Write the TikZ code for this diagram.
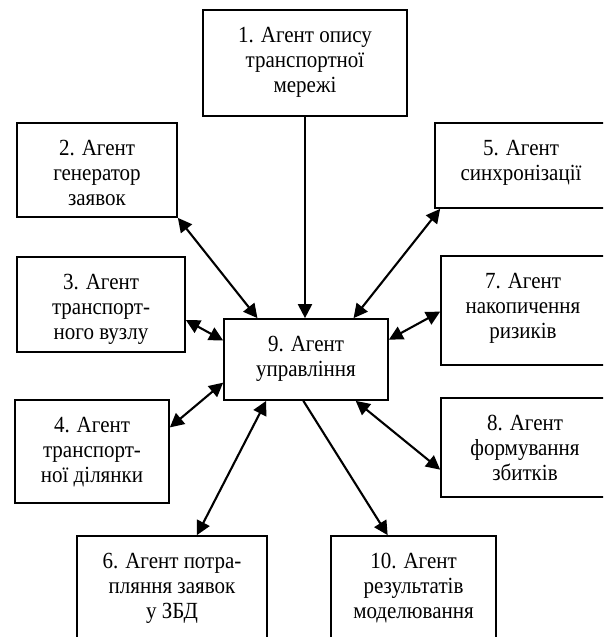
\documentclass[tikz,border=0pt]{standalone}
\usepackage{fontspec}
\usepackage{graphicx}
\setmainfont{Liberation Serif}
\usetikzlibrary{arrows.meta,calc}
\newcommand{\agtxt}[1]{\scalebox{1}[1.1]{\fontsize{21}{22.7}\selectfont\begin{tabular}{@{}c@{}}#1\end{tabular}}}
\tikzset{
  agentbox/.style={draw, line width=1.7pt, inner sep=0pt, rectangle},
  lbl/.style={inner sep=0pt, anchor=north},
  onearr/.style={line width=2.1pt, -{Triangle[length=14pt,width=14pt]}},
  twoarr/.style={line width=2.1pt, {Triangle[length=14pt,width=14pt]}-{Triangle[length=14pt,width=14pt]}}
}
\begin{document}
\begin{tikzpicture}[x=1pt,y=-1pt]
\useasboundingbox (0,0) rectangle (603,637);
\clip (0,0) rectangle (603,637);
% boxes
\node[agentbox, minimum width=204pt, minimum height=106pt] (n1) at (305,63) {};
\node[agentbox, minimum width=160pt, minimum height=94pt] (n2) at (97,170) {};
\node[agentbox, minimum width=168pt, minimum height=95pt] (n3) at (101,304.5) {};
\node[agentbox, minimum width=154pt, minimum height=103pt] (n4) at (92,451.5) {};
\node[agentbox, minimum width=172pt, minimum height=85pt] (n5) at (521,165.5) {};
\node[agentbox, minimum width=164pt, minimum height=109pt] (n7) at (523,310.5) {};
\node[agentbox, minimum width=168pt, minimum height=99pt] (n8) at (525,447.5) {};
\node[agentbox, minimum width=164pt, minimum height=81pt] (n9) at (306,359.5) {};
\node[agentbox, minimum width=190pt, minimum height=114pt] (n6) at (172,593) {};
\node[agentbox, minimum width=165pt, minimum height=114pt] (n10) at (413.5,593) {};
% labels
\node[lbl] (t1) at ([yshift=-16pt]n1.north) {\agtxt{1. Агент опису\\транспортної\\мережі}};
\node[lbl] (t2) at ([yshift=-16pt]n2.north) {\agtxt{2. Агент\\генератор\\заявок}};
\node[lbl] (t3) at ([yshift=-16pt]n3.north) {\agtxt{3. Агент\\транспорт-\\ного вузлу}};
\node[lbl] (t4) at ([yshift=-16pt]n4.north) {\agtxt{4. Агент\\транспорт-\\ної ділянки}};
\node[lbl] (t5) at ([yshift=-16pt]n5.north) {\agtxt{5. Агент\\синхронізації}};
\node[lbl] (t7) at ([yshift=-16pt]n7.north) {\agtxt{7. Агент\\накопичення\\ризиків}};
\node[lbl] (t8) at ([yshift=-16pt]n8.north) {\agtxt{8. Агент\\формування\\збитків}};
\node[lbl] (t9) at ([yshift=-16pt]n9.north) {\agtxt{9. Агент\\управління}};
\node[lbl] (t6) at ([yshift=-16pt]n6.north) {\agtxt{6. Агент потра-\\пляння заявок\\у ЗБД}};
\node[lbl] (t10) at ([yshift=-16pt]n10.north) {\agtxt{10. Агент\\результатів\\моделювання}};
% connectors
\draw[onearr] (n1.south) -- (n1.south |- n9.north);
\draw[twoarr] (n2.south east) -- ($(n9.north west)!0.207!(n9.north east)$);
\draw[twoarr] ($(n5.south west)+(6,0)$) -- ($(n9.north west)!0.787!(n9.north east)$);
\draw[twoarr] ($(n3.north east)!0.66!(n3.south east)$) -- ($(n9.north west)!0.27!(n9.south west)$);
\draw[twoarr] ($(n4.north east)!0.27!(n4.south east)$) -- ($(n9.north west)!0.78!(n9.south west)$);
\draw[twoarr] ($(n7.north west)!0.51!(n7.south west)$) -- ($(n9.north east)!0.26!(n9.south east)$);
\draw[twoarr] ($(n8.north west)!0.72!(n8.south west)$) -- ($(n9.south west)!0.8!(n9.south east)$);
\draw[twoarr] ($(n6.north west)!0.63!(n6.north east)$) -- ($(n9.south west)!0.26!(n9.south east)$);
\draw[onearr] ($(n9.south west)!0.484!(n9.south east)$) -- ($(n10.north west)!0.345!(n10.north east)$);
\end{tikzpicture}
\end{document}
